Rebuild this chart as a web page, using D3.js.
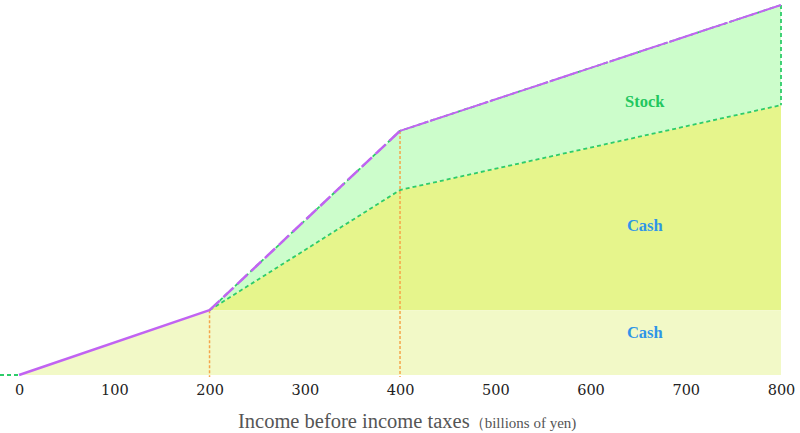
<!DOCTYPE html>
<html><head><meta charset="utf-8">
<script src="https://cdn.jsdelivr.net/npm/d3@7"></script>
<style>body{margin:0;background:#fff}svg{display:block}</style>
</head><body>
<svg id="c" width="800" height="433"></svg>
<script>
// ---- data ----
const incomeX   = [0, 200, 400, 800];          // income before taxes (billions of yen)
const totalPay  = [0, 68, 256, 388];            // total shareholder return
const cashPay   = [0, 68, 194, 283];            // cash portion (top of cash)
const baseCash  = [0, 68, 68, 68];              // base cash band
const lossX     = [-20, 0];                     // flat part below zero income
const ticks     = [0, 100, 200, 300, 400, 500, 600, 700, 800];
const kinkX     = [200, 400];
const labels    = [
  {text: "Stock", x: 657, y: 287, color: "#22c75e"},
  {text: "Cash",  x: 657, y: 157, color: "#2f95e8"},
  {text: "Cash",  x: 657, y: 45,  color: "#2f95e8"}
];
const xTitle = "Income before income taxes";
const xUnit  = "（billions of yen)";

// ---- scales ----
const svg = d3.select("#c");
const x = d3.scaleLinear().domain([-20, 800]).range([0, 781]);
const y = d3.scaleLinear().domain([0, 388]).range([375, 5]);

const rows = incomeX.map((v, i) => ({x: v, total: totalPay[i], cash: cashPay[i], base: baseCash[i]}));

// fills
svg.append("path").datum(rows)
  .attr("d", d3.area().x(d => x(d.x)).y0(d => y(d.cash)).y1(d => y(d.total)))
  .attr("fill", "#ccfdcb");
svg.append("path").datum(rows)
  .attr("d", d3.area().x(d => x(d.x)).y0(d => y(d.base)).y1(d => y(d.cash)))
  .attr("fill", "#e6f58c");
svg.append("path").datum(rows)
  .attr("d", d3.area().x(d => x(d.x)).y0(y(0)).y1(d => y(d.base)))
  .attr("fill", "#f2f9c7");

// orange verticals
kinkX.forEach(k => {
  const i = incomeX.indexOf(k);
  svg.append("line")
    .attr("x1", x(k)).attr("x2", x(k))
    .attr("y1", y(totalPay[i])).attr("y2", y(0) + 2)
    .attr("stroke", "#f5a54a").attr("stroke-width", 1.5)
    .attr("stroke-dasharray", "3,2");
});

const line = d3.line().x(d => x(d.x)).y(d => y(d.v));
const seg = (arr, from, to) => rows.filter(r => r.x >= from && r.x <= to).map(r => ({x: r.x, v: r[arr]}));

// green dashed lines
const green = {stroke: "#2ecc6a", w: 1.8, dash: "4,3"};
[["cash", 200, 800], ["total", 200, 800]].forEach(([k, a, b]) => {
  svg.append("path").datum(seg(k, a, b)).attr("d", line)
    .attr("fill", "none").attr("stroke", green.stroke)
    .attr("stroke-width", green.w).attr("stroke-dasharray", green.dash);
});
svg.append("path").datum(lossX.map(v => ({x: v, v: 0}))).attr("d", line)
  .attr("fill", "none").attr("stroke", green.stroke)
  .attr("stroke-width", green.w).attr("stroke-dasharray", green.dash);
svg.append("line")
  .attr("x1", x(800)).attr("x2", x(800))
  .attr("y1", y(totalPay[3])).attr("y2", y(cashPay[3]))
  .attr("stroke", green.stroke).attr("stroke-width", green.w)
  .attr("stroke-dasharray", green.dash);

// purple total line
const purple = "#c163f2";
svg.append("path").datum(seg("total", 0, 200)).attr("d", line)
  .attr("fill", "none").attr("stroke", purple).attr("stroke-width", 2.5);
svg.append("path").datum(seg("total", 200, 400)).attr("d", line)
  .attr("fill", "none").attr("stroke", purple).attr("stroke-width", 2.5)
  .attr("stroke-dasharray", "14,5");
svg.append("path").datum(seg("total", 400, 800)).attr("d", line)
  .attr("fill", "none").attr("stroke", purple).attr("stroke-width", 2)
  .attr("stroke-dasharray", "30,1.5");

// labels
labels.forEach(l => {
  svg.append("text").attr("x", x(l.x)).attr("y", y(l.y)).attr("dy", "0.35em")
    .attr("text-anchor", "middle")
    .attr("font-family", "Liberation Serif, serif").attr("font-weight", "bold")
    .attr("font-size", 16.5).attr("fill", l.color).text(l.text);
});

// axis (labels only)
const ax = svg.append("g").attr("transform", `translate(0,${y(0)})`)
  .call(d3.axisBottom(x).tickValues(ticks).tickSize(0).tickPadding(10));
ax.select(".domain").remove();
ax.selectAll("text").attr("font-family", "DejaVu Serif, serif").attr("font-size", 14.5).attr("fill", "#222");

// axis title
const t = svg.append("text").attr("x", 238).attr("y", 428)
  .attr("font-family", "Liberation Serif, serif").attr("fill", "#555");
t.append("tspan").attr("font-size", 20.5).text(xTitle);
t.append("tspan").attr("font-size", 15).text(xUnit);
</script>
</body></html>
